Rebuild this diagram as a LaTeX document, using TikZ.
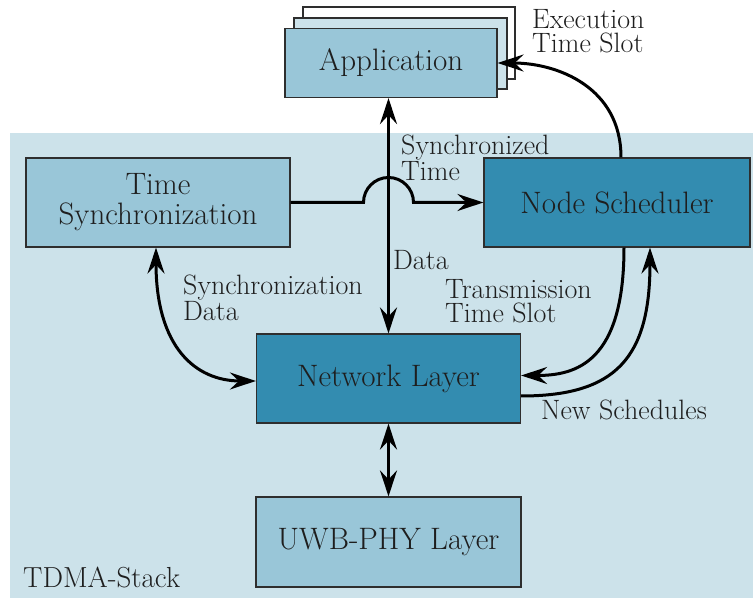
\documentclass[tikz,border=0pt]{standalone}
\usetikzlibrary{arrows.meta}

\definecolor{stackbg}{HTML}{CCE2EA}
\definecolor{boxlight}{HTML}{99C6D8}
\definecolor{boxdark}{HTML}{338CB0}
\definecolor{ink}{HTML}{1E1E1E}
\definecolor{frame}{HTML}{2E2E2E}

\tikzset{
  layerbox/.style={draw=frame, line width=1.2pt, text=ink, align=center,
    font=\fontsize{31}{30}\selectfont, inner sep=0pt},
  lightbox/.style={layerbox, fill=boxlight},
  darkbox/.style={layerbox, fill=boxdark},
  link/.style={line width=3pt, black},
  oneway/.style={link, -{Stealth[length=26pt,width=17pt,inset=9pt]}},
  twoway/.style={link, {Stealth[length=26pt,width=17pt,inset=9pt]}-{Stealth[length=26pt,width=17pt,inset=9pt]}},
  flowlabel/.style={text=ink, align=left, anchor=north west, inner sep=0pt,
    font=\fontsize{28}{24}\selectfont},
}

\begin{document}
\begin{tikzpicture}[x=1pt, y=-1pt]
  \useasboundingbox (0,0) rectangle (753,601);

  % TDMA stack area
  \fill[stackbg] (10,133) rectangle (753,598);
  \node[text=ink, anchor=north west, inner sep=0pt,
        font=\fontsize{29}{29}\selectfont] (stacklabel) at (23,567) {TDMA-Stack};

  % stacked application windows
  \filldraw[fill=white, draw=frame, line width=1.2pt] (303,7) rectangle (515,79);
  \filldraw[fill=stackbg, draw=frame, line width=1.2pt] (294,18) rectangle (507,89);
  \node[lightbox, minimum width=212pt, minimum height=69pt] (app) at (391,63) {Application};

  % layer blocks
  \node[lightbox, minimum width=264pt, minimum height=89pt] (ts) at (158,202.5)
    {Time\\Synchronization};
  \node[darkbox, minimum width=266pt, minimum height=89pt] (ns) at (617,202.5)
    {Node Scheduler};
  \node[darkbox, minimum width=264pt, minimum height=89pt] (net) at (388.5,378.5)
    {Network Layer};
  \node[lightbox, minimum width=265pt, minimum height=90pt] (uwb) at (388.5,542)
    {UWB-PHY Layer};

  % application <-> network layer
  \draw[twoway] (net.north |- app.south) -- (net.north);

  % time synchronization -> node scheduler, hopping over the data line
  \coordinate (hopL) at ([xshift=-25pt]net.north |- ts.east);
  \draw[oneway] (ts.east) -- (hopL)
    arc[start angle=180, end angle=0, radius=25pt] -- (ns.west);

  % node scheduler -> application
  \draw[oneway] ([xshift=4pt]ns.north) .. controls +(0,-70) and +(60,0) .. (app.east);

  % node scheduler -> network layer
  \draw[oneway] ([xshift=7pt]ns.south) .. controls +(0,115) and +(55,0) ..
    ([yshift=3pt]net.east);

  % network layer -> node scheduler
  \draw[oneway] ([yshift=-17.5pt]net.east) .. controls +(95,0) and +(0,110) ..
    ([xshift=33pt]ns.south);

  % time synchronization <-> network layer
  \draw[twoway] ([xshift=-2pt]ts.south) .. controls +(0,100) and +(-60,0) ..
    ([yshift=-2.5pt]net.west);

  % network layer <-> physical layer
  \draw[twoway] (net.south) -- (uwb.north);

  % connector labels
  \node[flowlabel] (lexec) at (532,9) {Execution\\Time Slot};
  \node[flowlabel] (lsynct) at (401,135) {Synchronized\\Time};
  \node[flowlabel] (ldata) at (393,250) {Data};
  \node[flowlabel] (lsyncd) at (183,275) {Synchronization\\Data};
  \node[flowlabel] (ltx) at (445,279) {Transmission\\Time Slot};
  \node[flowlabel] (lnew) at (541,400) {New Schedules};
\end{tikzpicture}
\end{document}
